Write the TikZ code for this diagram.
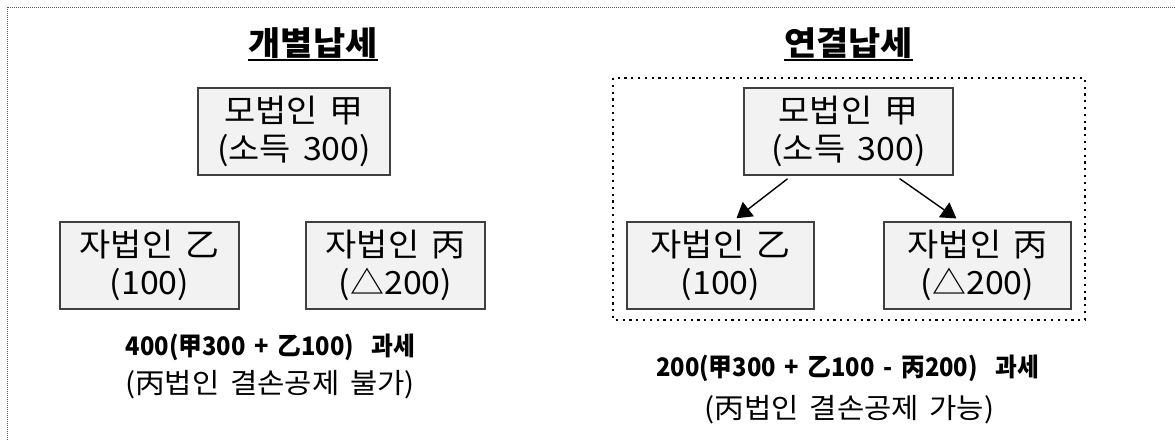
\documentclass[tikz,border=0pt]{standalone}
\usepackage{fontspec}
\setmainfont[FakeStretch=1.06, WordSpace=1.6]{Noto Sans CJK KR}
\newfontfamily\sumfont[FakeStretch=0.93, WordSpace=1.6]{Noto Sans CJK KR}
\usepackage{tikz}
\usetikzlibrary{arrows.meta}
\definecolor{boxfill}{HTML}{F2F2F2}
\definecolor{boxline}{HTML}{404040}
\tikzstyle{box}=[draw=boxline, line width=1.4pt, fill=boxfill, align=center,
                inner sep=0pt, minimum height=87pt, font=\fontsize{32}{38}\selectfont]
\tikzstyle{ttl}=[inner sep=0pt, font=\fontsize{33}{38}\selectfont\bfseries]
\tikzstyle{sumtxt}=[inner sep=0pt, font=\sumfont\fontsize{25.5}{30}\selectfont\bfseries]
\tikzstyle{note}=[inner sep=0pt, font=\fontsize{28}{32}\selectfont]
\tikzstyle{arr}=[-{Triangle[length=15pt,width=18pt]}, line width=1.4pt,
                shorten <=5pt, shorten >=5pt]

\begin{document}
\begin{tikzpicture}[x=1pt,y=-1pt]
\useasboundingbox (0,0) rectangle (1175,440);
\begin{scope}
\clip (0,0) rectangle (1175,440);
\draw[gray!70!black, line width=1pt, dash pattern=on 1pt off 1pt] (7,7) rectangle (1190,455);
\end{scope}
% left: separate taxation
\node[ttl] (lt) at (313,43) {개별납세};
\draw[line width=1.8pt] ([yshift=-5pt]lt.base west) -- ([yshift=-5pt]lt.base east);
\node[box, minimum width=192pt] (ltop) at (294,131.5) {모법인 甲\\(소득 300)};
\node[box, minimum width=179pt] (lb) at (149.5,265.5) {자법인 乙\\(100)};
\node[box, minimum width=179pt] (lc) at (395.5,265.5) {자법인 丙\\(△200)};
\node[sumtxt] (lsum) at (270.5,347) {400(甲300 + 乙100) \ 과세};
\node[note] (lnote) at (270,385) {(丙법인 결손공제 불가)};
% right: consolidated taxation
\node[ttl] (rt) at (848.5,43) {연결납세};
\draw[line width=1.8pt] ([yshift=-5pt]rt.base west) -- ([yshift=-5pt]rt.base east);
\draw[line width=2.2pt, dash pattern=on 2.2pt off 4.6pt] (613,78) rectangle (1085,320);
\node[box, minimum width=209pt] (rtop) at (848.5,131.5) {모법인 甲\\(소득 300)};
\node[box, minimum width=187pt] (rb) at (720.5,265.5) {자법인 乙\\(100)};
\node[box, minimum width=187pt] (rc) at (977.5,265.5) {자법인 丙\\(△200)};
\draw[arr] ([xshift=-57pt]rtop.south) -- ([xshift=12pt]rb.north);
\draw[arr] ([xshift=47pt]rtop.south) -- ([xshift=-17pt]rc.north);
\node[sumtxt] (rsum) at (847.5,368) {200(甲300 + 乙100 - 丙200) \ 과세};
\node[note] (rnote) at (849.5,410) {(丙법인 결손공제 가능)};
\end{tikzpicture}
\end{document}
